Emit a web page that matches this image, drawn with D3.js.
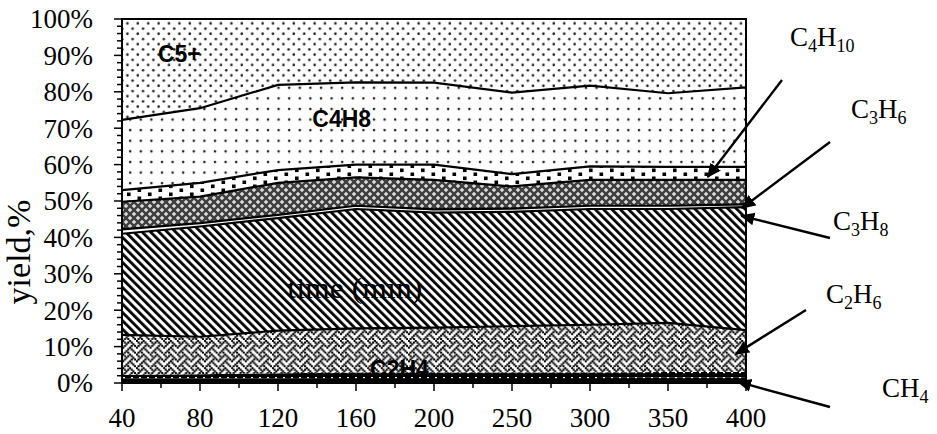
<!DOCTYPE html>
<html lang="en">
<head>
<meta charset="UTF-8">
<title>Product yield</title>
<script src="https://d3js.org/d3.v7.min.js"></script>
<style>
  body { margin: 0; background: #fff; }
  svg { display: block; }
  .serif { font-family: "Liberation Serif", "Times New Roman", serif; fill: #000; }
  .bold-label { font-family: "Liberation Sans", Arial, sans-serif; font-weight: bold; font-size: 23px; fill: #000; }
</style>
</head>
<body>
<div id="chart"></div>
<script>
// categories on the x axis (time, min)
const categories = [40, 80, 120, 160, 200, 250, 300, 350, 400];

// yield of each product, % (stacked bottom -> top)
const ch4    = [1.2, 1.2, 1.3, 1.4, 1.4, 1.4, 1.4, 1.5, 1.5];
const c2h4   = [1.1, 1.2, 1.4, 1.5, 1.5, 1.5, 1.5, 1.5, 1.5];
const c2h6   = [10.9, 10.3, 11.7, 12.1, 12.3, 12.7, 13.1, 13.5, 11.5];
const c3h8   = [27.8, 30.3, 30.9, 32.8, 31.6, 31.4, 31.8, 31.3, 33.8];
const c3h6   = [1.2, 0.9, 0.9, 0.9, 0.9, 0.9, 0.9, 0.9, 0.8];
const ic4h10 = [7.6, 7.3, 8.8, 7.8, 8.1, 6.1, 7.1, 7.1, 6.7];
const c4h10  = [3.2, 3.8, 3.5, 3.5, 4.2, 3.4, 3.7, 3.6, 3.6];
const c4h8   = [19.3, 20.5, 23.4, 22.6, 22.5, 22.4, 22.2, 20.2, 21.8];
const c5plus = [27.7, 24.5, 18.1, 17.4, 17.5, 20.2, 18.3, 20.4, 18.8];

const seriesKeys = ["CH4", "C2H4", "C2H6", "C3H8", "C3H6", "iC4H10", "C4H10", "C4H8", "C5+"];
const seriesValues = [ch4, c2h4, c2h6, c3h8, c3h6, ic4h10, c4h10, c4h8, c5plus];
const yTickValues = [0, 0.1, 0.2, 0.3, 0.4, 0.5, 0.6, 0.7, 0.8, 0.9, 1];

// fill pattern for each series
const fills = {
  "CH4": "url(#pBlackDots)", "C2H4": "url(#pBlackDots)", "C2H6": "url(#pWeave)",
  "C3H8": "url(#pDiag)", "C3H6": "#fff", "iC4H10": "url(#pTrellis)",
  "C4H10": "url(#pSquares)", "C4H8": "url(#pSparse)", "C5+": "url(#pDense)"
};
// which series get a black line along their top edge
const outlined = ["C2H6", "C3H8", "C3H6", "iC4H10", "C4H10", "C4H8"];

const rows = categories.map((c, i) => {
  const r = { cat: c };
  seriesKeys.forEach((k, j) => r[k] = seriesValues[j][i]);
  return r;
});

const width = 937, height = 434;
const margin = { left: 122, right: 191, top: 19, bottom: 51 };

const svg = d3.select("#chart").append("svg")
  .attr("width", width).attr("height", height);

const defs = svg.append("defs");

// dense dots
let p = defs.append("pattern").attr("id", "pDense").attr("patternUnits", "userSpaceOnUse")
  .attr("width", 10.4).attr("height", 10.4);
p.append("rect").attr("width", 10.4).attr("height", 10.4).attr("fill", "#fff");
p.append("circle").attr("cx", 2.6).attr("cy", 2.6).attr("r", 1.3).attr("fill", "#222");
p.append("circle").attr("cx", 7.8).attr("cy", 7.8).attr("r", 1.3).attr("fill", "#222");

// sparse dots
p = defs.append("pattern").attr("id", "pSparse").attr("patternUnits", "userSpaceOnUse")
  .attr("width", 10.6).attr("height", 10.6);
p.append("rect").attr("width", 10.6).attr("height", 10.6).attr("fill", "#fff");
p.append("circle").attr("cx", 3).attr("cy", 3).attr("r", 1.3).attr("fill", "#222");

// square confetti
p = defs.append("pattern").attr("id", "pSquares").attr("patternUnits", "userSpaceOnUse")
  .attr("width", 21).attr("height", 8);
p.append("rect").attr("width", 21).attr("height", 8).attr("fill", "#fff");
p.append("rect").attr("x", 1).attr("y", 0.5).attr("width", 3.6).attr("height", 3.6).attr("fill", "#000");
p.append("rect").attr("x", 11.5).attr("y", 4.5).attr("width", 3.6).attr("height", 3.6).attr("fill", "#000");

// dark trellis
p = defs.append("pattern").attr("id", "pTrellis").attr("patternUnits", "userSpaceOnUse")
  .attr("width", 8).attr("height", 8);
p.append("rect").attr("width", 8).attr("height", 8).attr("fill", "#404040");
[[2, 2], [6, 6]].forEach(([cx, cy]) => {
  p.append("rect").attr("x", cx - 2).attr("y", cy - 0.7).attr("width", 4).attr("height", 1.4).attr("fill", "#e6e6e6");
  p.append("rect").attr("x", cx - 0.7).attr("y", cy - 2).attr("width", 1.4).attr("height", 4).attr("fill", "#e6e6e6");
});

// wide downward diagonal
p = defs.append("pattern").attr("id", "pDiag").attr("patternUnits", "userSpaceOnUse")
  .attr("width", 5.9).attr("height", 5.9).attr("patternTransform", "rotate(-45)");
p.append("rect").attr("width", 5.9).attr("height", 5.9).attr("fill", "#fff");
p.append("rect").attr("width", 2.8).attr("height", 5.9).attr("fill", "#000");

// weave, drawn from an 8x8 bitmap
const weaveBits = [0x88, 0x54, 0x22, 0x45, 0x88, 0x14, 0x22, 0x51];
const cell = 1.7;
p = defs.append("pattern").attr("id", "pWeave").attr("patternUnits", "userSpaceOnUse")
  .attr("width", 8 * cell).attr("height", 8 * cell);
p.append("rect").attr("width", 8 * cell).attr("height", 8 * cell).attr("fill", "#fff");
weaveBits.forEach((b, r) => {
  for (let c = 0; c < 8; c++) {
    if (b & (0x80 >> c)) {
      p.append("rect").attr("x", c * cell - 0.2).attr("y", r * cell - 0.2)
        .attr("width", cell + 0.4).attr("height", cell + 0.4).attr("fill", "#000");
    }
  }
});

// black with white dots
p = defs.append("pattern").attr("id", "pBlackDots").attr("patternUnits", "userSpaceOnUse")
  .attr("width", 8).attr("height", 5);
p.append("rect").attr("width", 8).attr("height", 5).attr("fill", "#000");
p.append("rect").attr("x", 3).attr("y", 2).attr("width", 2).attr("height", 1.2).attr("fill", "#fff");

const x = d3.scalePoint().domain(categories).range([margin.left, width - margin.right]);
const y = d3.scaleLinear().domain([0, 1]).range([height - margin.bottom, margin.top]);
const xi = i => x(categories[0]) + i * x.step();   // fractional category position

const stack = d3.stack().keys(seriesKeys).offset(d3.stackOffsetExpand);
const layers = stack(rows);

const area = d3.area()
  .x(d => x(d.data.cat))
  .y0(d => y(d[0]))
  .y1(d => y(d[1]));

const topLine = d3.line()
  .x(d => x(d.data.cat))
  .y(d => y(d[1]));

svg.append("g").selectAll("path")
  .data(layers)
  .join("path")
  .attr("d", area)
  .attr("fill", d => fills[d.key]);

svg.append("g").selectAll("path")
  .data(layers.filter(l => outlined.includes(l.key)))
  .join("path")
  .attr("d", topLine)
  .attr("fill", "none")
  .attr("stroke", "#000")
  .attr("stroke-width", 2.2);

// plot frame
svg.append("rect")
  .attr("x", margin.left).attr("y", margin.top)
  .attr("width", width - margin.left - margin.right)
  .attr("height", height - margin.top - margin.bottom)
  .attr("fill", "none").attr("stroke", "#000").attr("stroke-width", 2);

// y axis
const yMinor = d3.range(0, 1.0001, 0.02);
const yAxis = svg.append("g");
yAxis.selectAll("line")
  .data(yMinor)
  .join("line")
  .attr("x1", d => margin.left - (Math.round(d * 50) % 5 === 0 ? 8 : 5))
  .attr("x2", margin.left)
  .attr("y1", d => y(d)).attr("y2", d => y(d))
  .attr("stroke", "#000").attr("stroke-width", 1.5);
yAxis.selectAll("text")
  .data(yTickValues)
  .join("text")
  .attr("class", "serif")
  .attr("x", 93)
  .attr("y", d => y(d))
  .attr("dy", "0.35em")
  .attr("text-anchor", "end")
  .style("font-size", "27px")
  .text(d3.format(".0%"));

// x axis
const xAxis = svg.append("g");
const halfSteps = d3.range(0, categories.length - 0.5, 0.5);
xAxis.selectAll("line")
  .data(halfSteps)
  .join("line")
  .attr("x1", d => xi(d)).attr("x2", d => xi(d))
  .attr("y1", y(0))
  .attr("y2", d => y(0) + (d % 1 === 0 ? 8 : 5))
  .attr("stroke", "#000").attr("stroke-width", 1.5);
xAxis.selectAll("text")
  .data(categories)
  .join("text")
  .attr("class", "serif")
  .attr("x", d => x(d))
  .attr("y", y(0) + 44)
  .attr("text-anchor", "middle")
  .style("font-size", "27px")
  .text(d => d);

// y axis title
svg.append("text")
  .attr("class", "serif")
  .attr("transform", "translate(30,252) rotate(-90)")
  .attr("text-anchor", "middle")
  .style("font-size", "34px")
  .text("yield,%");

// labels inside the plot
const inLabels = [
  { text: "C5+", at: [0.46, 0.882] },
  { text: "C4H8", at: [2.44, 0.703] },
  { text: "C2H4", at: [3.18, 0.016] }
];
svg.append("g").selectAll("text")
  .data(inLabels)
  .join("text")
  .attr("class", "bold-label")
  .attr("x", d => xi(d.at[0]))
  .attr("y", d => y(d.at[1]))
  .text(d => d.text);

svg.append("text")
  .attr("class", "serif")
  .attr("x", xi(2.12)).attr("y", y(0.234))
  .attr("textLength", 135).attr("lengthAdjust", "spacingAndGlyphs")
  .style("font-size", "30px")
  .text("time (min)");

// arrows with formula labels
defs.append("marker").attr("id", "arrowHead")
  .attr("viewBox", "0 0 10 10").attr("refX", 9).attr("refY", 5)
  .attr("markerWidth", 6).attr("markerHeight", 6).attr("markerUnits", "strokeWidth")
  .attr("orient", "auto")
  .append("path").attr("d", "M0,0.5 L10,5 L0,9.5 Z").attr("fill", "#000");

const annotations = [
  { parts: [["C"], ["4", 1], ["H"], ["10", 1]], tip: [7.51, 0.566], tail: [782, 80], pos: [790, 46] },
  { parts: [["C"], ["3", 1], ["H"], ["6", 1]], tip: [7.95, 0.481], tail: [830, 142], pos: [851, 118] },
  { parts: [["C"], ["3", 1], ["H"], ["8", 1]], tip: [7.94, 0.459], tail: [830, 238], pos: [833, 230] },
  { parts: [["C"], ["2", 1], ["H"], ["6", 1]], tip: [7.87, 0.080], tail: [806, 310], pos: [826, 303] },
  { parts: [["CH"], ["4", 1]], tip: [7.9, 0.003], tail: [830, 407], pos: [882, 397] }
];

const ann = svg.append("g");
ann.selectAll("line")
  .data(annotations)
  .join("line")
  .attr("x1", d => d.tail[0]).attr("y1", d => d.tail[1])
  .attr("x2", d => xi(d.tip[0])).attr("y2", d => y(d.tip[1]))
  .attr("stroke", "#000").attr("stroke-width", 2.4)
  .attr("marker-end", "url(#arrowHead)");

ann.selectAll("text")
  .data(annotations)
  .join("text")
  .attr("class", "serif")
  .attr("x", d => d.pos[0]).attr("y", d => d.pos[1])
  .style("font-size", "27px")
  .each(function(d) {
    const t = d3.select(this);
    let shifted = false;
    d.parts.forEach(([s, sub]) => {
      const ts = t.append("tspan").text(s);
      if (sub && !shifted) { ts.attr("dy", 6).style("font-size", "18px"); shifted = true; }
      else if (!sub && shifted) { ts.attr("dy", -6); shifted = false; }
      else if (sub) ts.style("font-size", "18px");
    });
  });
</script>
</body>
</html>
